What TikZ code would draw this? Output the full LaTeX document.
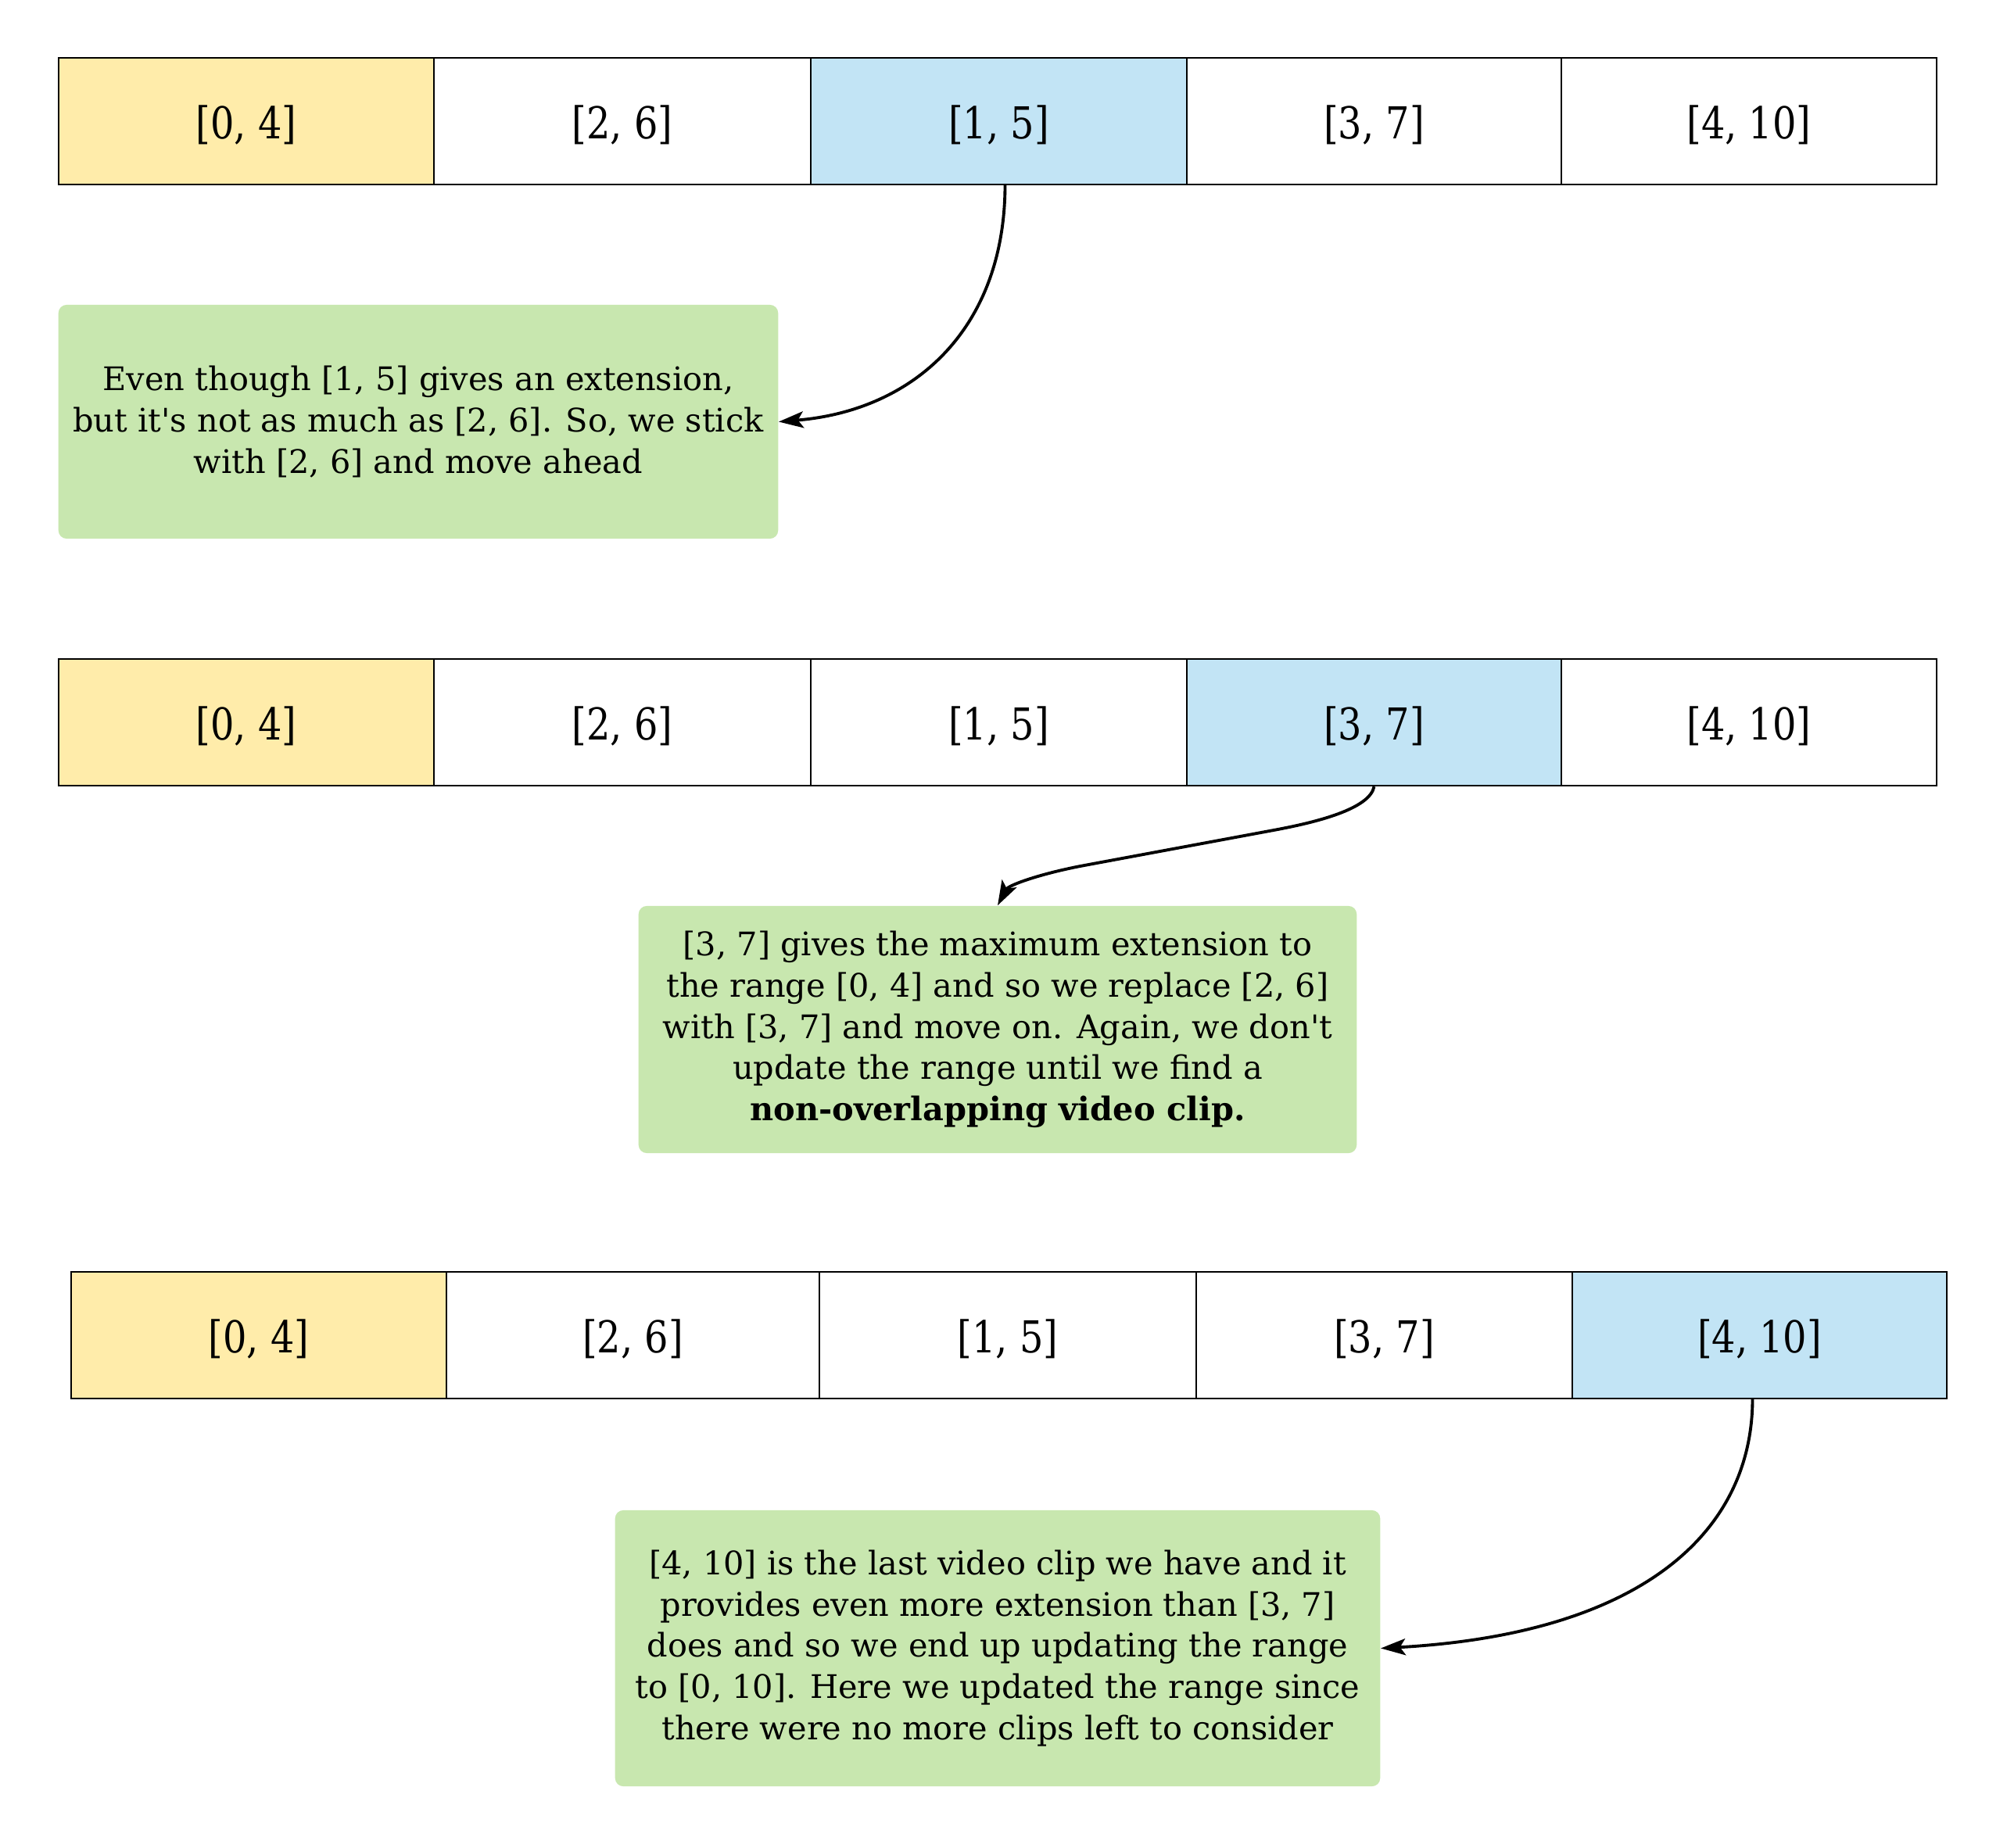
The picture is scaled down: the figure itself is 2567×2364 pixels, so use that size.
\documentclass[tikz,border=0pt]{standalone}
\usepackage{fontspec}
\newfontfamily\callfont{DejaVu Serif}[Ligatures=TeXOff]
\newfontfamily\cellfont{DejaVu Serif}[FakeStretch=0.85]
\usetikzlibrary{arrows.meta}
\definecolor{cyellow}{RGB}{255,236,170}
\definecolor{cblue}{RGB}{194,228,245}
\definecolor{cgreen}{RGB}{200,231,175}
\begin{document}
\begin{tikzpicture}[x=0.01cm,y=-0.01cm,
  cell/.style={draw=black, line width=0.6pt, minimum height=1.62cm, inner sep=0pt,
    text height=15pt, text depth=2pt,
    font=\cellfont\fontsize{16}{19}\selectfont},
  note/.style={fill=cgreen, rounded corners=3pt, align=center, inner sep=0pt,
    font=\callfont\fontsize{11.8}{15}\selectfont},
  link/.style={line width=1.1pt, -{Stealth[length=9pt,width=6pt,inset=2pt]}}]
\useasboundingbox (0,0) rectangle (2567,2364);
% row 1
\node[cell, fill=cyellow, minimum width=4.80cm] (a1) at (315,155) {[0, 4]};
\node[cell, minimum width=4.82cm] (a2) at (796,155) {[2, 6]};
\node[cell, fill=cblue, minimum width=4.81cm] (a3) at (1277.5,155) {[1, 5]};
\node[cell, minimum width=4.79cm] (a4) at (1757.5,155) {[3, 7]};
\node[cell, minimum width=4.80cm] (a5) at (2237,155) {[4, 10]};
% row 2
\node[cell, fill=cyellow, minimum width=4.80cm] (b1) at (315,924) {[0, 4]};
\node[cell, minimum width=4.82cm] (b2) at (796,924) {[2, 6]};
\node[cell, minimum width=4.81cm] (b3) at (1277.5,924) {[1, 5]};
\node[cell, fill=cblue, minimum width=4.79cm] (b4) at (1757.5,924) {[3, 7]};
\node[cell, minimum width=4.80cm] (b5) at (2237,924) {[4, 10]};
% row 3
\node[cell, fill=cyellow, minimum width=4.80cm] (c1) at (331,1708) {[0, 4]};
\node[cell, minimum width=4.77cm] (c2) at (809.5,1708) {[2, 6]};
\node[cell, minimum width=4.82cm] (c3) at (1289,1708) {[1, 5]};
\node[cell, minimum width=4.81cm] (c4) at (1770.5,1708) {[3, 7]};
\node[cell, fill=cblue, minimum width=4.79cm] (c5) at (2250.5,1708) {[4, 10]};
% notes
\node[note, minimum width=9.20cm, minimum height=2.99cm] (n1) at (535,539.5)
  {Even though [1, 5] gives an extension,\\but it's not as much as [2, 6]. So, we stick\\with [2, 6] and move ahead};
\node[note, minimum width=9.18cm, minimum height=3.16cm] (n2) at (1276,1317)
  {[3, 7] gives the maximum extension to\\the range [0, 4] and so we replace [2, 6]\\with [3, 7] and move on. Again, we don't\\update the range until we find a\\\textbf{non-overlapping video clip.}};
\node[note, minimum width=9.78cm, minimum height=3.53cm] (n3) at (1276,2108.5)
  {[4, 10] is the last video clip we have and it\\provides even more extension than [3, 7]\\does and so we end up updating the range\\to [0, 10]. Here we updated the range since\\there were no more clips left to consider};
% connectors
\draw[link] ([xshift=0.08cm]a3.south) .. controls (1285,420) and (1170,525) .. (n1.east);
\draw[link] (b4.south) .. controls (1752,1035) and (1683,1052) .. (1629,1062)
  -- (1387,1107) .. controls (1333,1117) and (1290,1132) .. (n2.north);
\draw[link] ([xshift=-0.09cm]c5.south) .. controls (2241,1960) and (2100,2090) .. (n3.east);
\end{tikzpicture}
\end{document}
